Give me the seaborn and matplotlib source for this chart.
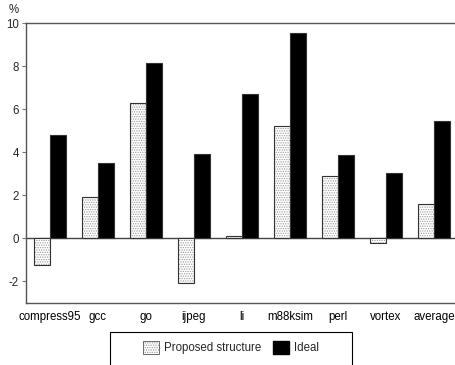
import pandas as pd
import matplotlib.pyplot as plt
import matplotlib.colors as mcolors
import seaborn as sns
from matplotlib.patches import Patch, Rectangle

# data
benchmarks = ['compress95', 'gcc', 'go', 'ijpeg', 'li', 'm88ksim', 'perl', 'vortex', 'average']
proposed = [-1.25, 1.9, 6.3, -2.05, 0.1, 5.2, 2.9, -0.2, 1.6]
ideal = [4.8, 3.5, 8.15, 3.9, 6.7, 9.55, 3.85, 3.05, 5.45]
series_names = ['Proposed structure', 'Ideal']

df = pd.DataFrame({
    'bench': benchmarks * 2,
    'value': proposed + ideal,
    'series': [series_names[0]] * len(benchmarks) + [series_names[1]] * len(benchmarks),
})

sns.set_theme(style='white')
plt.rcParams['font.family'] = ['Liberation Sans', 'DejaVu Sans']
plt.rcParams['hatch.linewidth'] = 0.6
plt.rcParams['axes.unicode_minus'] = False

W, H = 456, 365
fig = plt.figure(figsize=(W / 100, H / 100), dpi=100)
ax = fig.add_axes([26 / W, 1 - 303 / H, 432 / W, 280 / H])

ax.axhline(0, color='#444444', lw=1.0, zorder=0.5)
sns.barplot(data=df, x='bench', y='value', hue='series', order=benchmarks,
            hue_order=series_names, palette=['white', 'black'], width=0.667, gap=0,
            edgecolor='#333333', linewidth=0.8, legend=False, ax=ax, zorder=2)

# dotted fill for the "proposed" bars
hatch_col = mcolors.to_rgba('#9a9a9a')
n = len(benchmarks)
for p in ax.patches[:n]:
    p.set_hatch('.......')
    p._hatch_color = hatch_col

ax.set_xlim(-0.5, 8.5)
ax.set_ylim(-3, 10)
ax.set_yticks([-2, 0, 2, 4, 6, 8, 10])
ax.set_xlabel('')
ax.set_ylabel('')

for s in ['left', 'bottom', 'top']:
    ax.spines[s].set_color('#555555')
    ax.spines[s].set_linewidth(1.0)
ax.spines['right'].set_visible(False)

ax.tick_params(axis='x', length=0, pad=6, labelsize=8.3, colors='black')
ax.tick_params(axis='y', which='both', left=True, right=True, direction='out',
               length=3, width=0.8, color='#777777', pad=2, labelsize=8.3)
for t in ax.yaxis.get_major_ticks():
    t.tick2line.set_marker(3)  # small tick inside the right edge
    t.tick2line.set_markersize(3)

fig.text(14 / W, 1 - 10 / H, '%', ha='center', va='center', fontsize=8.3)

# legend box (frame drawn separately for the wide left padding)
fig.patches.append(Rectangle((110 / W, -0.05), 242 / W, 1 - 332 / H + 0.05,
                             transform=fig.transFigure, facecolor='white',
                             edgecolor='black', lw=0.8, zorder=3))
h1 = Patch(facecolor='white', edgecolor='#555555', hatch='.......', lw=0.6)
h2 = Patch(facecolor='black', edgecolor='black')
leg = fig.legend([h1, h2], series_names, loc='upper left',
                 bbox_to_anchor=(143 / W, 1 - 341 / H), ncol=2, frameon=False,
                 fontsize=8.3, borderpad=0, handlelength=1.4, handleheight=1.4,
                 columnspacing=0.95, handletextpad=0.45, borderaxespad=0)
leg.set_zorder(4)
leg.legend_handles[0]._hatch_color = hatch_col

plt.savefig('out.png', dpi=100)
plt.close()
